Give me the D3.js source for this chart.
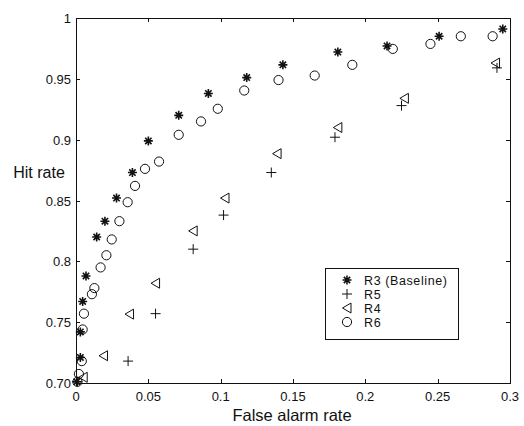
<!DOCTYPE html>
<html lang="en">
<head>
    <meta charset="UTF-8" />
    <title>Hit rate vs false alarm rate</title>
    <script src="https://d3js.org/d3.v7.js"></script>
    <style>
        body { margin: 0; background: #fff; }
        text { font-family: "Liberation Sans", Arial, sans-serif; fill: #111; }
    </style>
</head>
<body>
    <script>
        // values
        var r3x = [0.0005, 0.003, 0.003, 0.0046, 0.0069, 0.0143, 0.020, 0.028, 0.039, 0.050, 0.071, 0.0915, 0.118, 0.143, 0.181, 0.215, 0.251, 0.295];
        var r3y = [0.701, 0.721, 0.742, 0.767, 0.788, 0.820, 0.833, 0.852, 0.873, 0.899, 0.920, 0.938, 0.951, 0.9615, 0.972, 0.977, 0.985, 0.991];

        var r5x = [0.001, 0.036, 0.055, 0.081, 0.102, 0.135, 0.179, 0.225, 0.291];
        var r5y = [0.701, 0.718, 0.757, 0.810, 0.838, 0.873, 0.902, 0.928, 0.959];

        var r4x = [0.005, 0.019, 0.037, 0.055, 0.081, 0.103, 0.139, 0.181, 0.227, 0.290];
        var r4y = [0.7047, 0.7224, 0.7566, 0.782, 0.825, 0.852, 0.8885, 0.910, 0.934, 0.963];

        var r6x = [0.001, 0.002, 0.004, 0.0046, 0.0055, 0.011, 0.0127, 0.017, 0.021, 0.0247, 0.030, 0.0357, 0.0408, 0.0477, 0.0574, 0.071, 0.0864, 0.098, 0.1163, 0.140, 0.165, 0.191, 0.219, 0.245, 0.266, 0.288];
        var r6y = [0.701, 0.7074, 0.718, 0.744, 0.757, 0.773, 0.778, 0.795, 0.805, 0.818, 0.833, 0.8486, 0.862, 0.876, 0.882, 0.904, 0.915, 0.9254, 0.9404, 0.949, 0.9527, 0.9615, 0.9746, 0.9787, 0.985, 0.985];

        var xTicks = [0, 0.05, 0.1, 0.15, 0.2, 0.25, 0.3];
        var xTickLabels = ["0", "0.05", "0.1", "0.15", "0.2", "0.25", "0.3"];
        var yTicks = [0.7, 0.75, 0.8, 0.85, 0.9, 0.95, 1];
        var yTickLabels = ["0.70", "0.75", "0.8", "0.85", "0.9", "0.95", "1"];

        var seriesNames = ["R3 (Baseline)", "R5", "R4", "R6"];
        var seriesKinds = ["star", "plus", "tri", "circle"];

        var w = 524;
        var h = 426;
        // plot box edges (window.top is read-only, so not "top")
        var pL = 76, pR = 510, pT = 18, pB = 383;

        var svg = d3.select("body")
            .append("svg")
            .attr("width", w)
            .attr("height", h);

        svg.append("rect").attr("width", w).attr("height", h).attr("fill", "white");

        var xScale = d3.scaleLinear().domain([0, 0.3]).range([pL, pR]);
        var yScale = d3.scaleLinear().domain([0.7, 1]).range([pB, pT]);

        // markers as paths
        function markerPath(kind) {
            var p = d3.path();
            if (kind == "star") {
                var r = 4.5;
                for (var k = 0; k < 4; k++) {
                    var a = k * Math.PI / 4;
                    p.moveTo(-r * Math.cos(a), -r * Math.sin(a));
                    p.lineTo(r * Math.cos(a), r * Math.sin(a));
                }
            } else if (kind == "plus") {
                p.moveTo(-5, 0); p.lineTo(5, 0);
                p.moveTo(0, -5); p.lineTo(0, 5);
            } else if (kind == "tri") {
                p.moveTo(-4.5, 0); p.lineTo(4, -5); p.lineTo(4, 5); p.closePath();
            } else {
                p.arc(0, 0, 4.6, 0, 2 * Math.PI);
            }
            return p.toString();
        }

        var series = [
            { kind: "star", xs: r3x, ys: r3y },
            { kind: "plus", xs: r5x, ys: r5y },
            { kind: "tri", xs: r4x, ys: r4y },
            { kind: "circle", xs: r6x, ys: r6y }
        ];

        // axes box
        var g = svg.append("g");
        g.append("rect")
            .attr("x", pL + 0.5).attr("y", pT + 0.5)
            .attr("width", pR - pL).attr("height", pB - pT)
            .attr("fill", "none").attr("stroke", "#111").attr("stroke-width", 1);

        // ticks pointing inward, on all four sides
        xTicks.forEach(function (t) {
            var x = Math.round(xScale(t)) + 0.5;
            g.append("line").attr("x1", x).attr("x2", x).attr("y1", pB).attr("y2", pB - 4).attr("stroke", "#111");
            g.append("line").attr("x1", x).attr("x2", x).attr("y1", pT).attr("y2", pT + 4).attr("stroke", "#111");
        });
        yTicks.forEach(function (t) {
            var y = Math.round(yScale(t)) + 0.5;
            g.append("line").attr("x1", pL).attr("x2", pL + 4).attr("y1", y).attr("y2", y).attr("stroke", "#111");
            g.append("line").attr("x1", pR).attr("x2", pR - 4).attr("y1", y).attr("y2", y).attr("stroke", "#111");
        });

        g.selectAll(".xl")
            .data(xTicks)
            .enter()
            .append("text")
            .attr("x", function (d) { return xScale(d); })
            .attr("y", pB + 18)
            .attr("text-anchor", "middle")
            .attr("font-size", 13)
            .text(function (d, i) { return xTickLabels[i]; });

        g.selectAll(".yl")
            .data(yTicks)
            .enter()
            .append("text")
            .attr("x", pL - 5)
            .attr("y", function (d) { return yScale(d) + 5; })
            .attr("text-anchor", "end")
            .attr("font-size", 13)
            .text(function (d, i) { return yTickLabels[i]; });

        svg.append("text")
            .attr("x", 292).attr("y", 421)
            .attr("text-anchor", "middle")
            .attr("font-size", 16.5)
            .text("False alarm rate");

        svg.append("text")
            .attr("x", 39).attr("y", 178)
            .attr("text-anchor", "middle")
            .attr("font-size", 16)
            .text("Hit rate");

        // points
        series.forEach(function (s) {
            svg.append("g")
                .selectAll("path")
                .data(s.xs)
                .enter()
                .append("path")
                .attr("transform", function (d, i) {
                    return "translate(" + xScale(d) + "," + yScale(s.ys[i]) + ")";
                })
                .attr("d", markerPath(s.kind))
                .attr("fill", "none")
                .attr("stroke", "#111")
                .attr("stroke-width", s.kind == "star" ? 1.6 : 1);
        });

        // legend
        var lg = svg.append("g");
        lg.append("rect")
            .attr("x", 325.5).attr("y", 268.5)
            .attr("width", 133).attr("height", 71)
            .attr("fill", "white").attr("stroke", "#111");
        seriesNames.forEach(function (name, i) {
            var y = 280 + i * 14;
            lg.append("path")
                .attr("transform", "translate(347," + y + ")")
                .attr("d", markerPath(seriesKinds[i]))
                .attr("fill", "none")
                .attr("stroke", "#111")
                .attr("stroke-width", seriesKinds[i] == "star" ? 1.6 : 1);
            lg.append("text")
                .attr("x", 364).attr("y", y + 4.5)
                .attr("font-size", 12.5)
                .attr("letter-spacing", 0.6)
                .text(name);
        });
    </script>
</body>
</html>
